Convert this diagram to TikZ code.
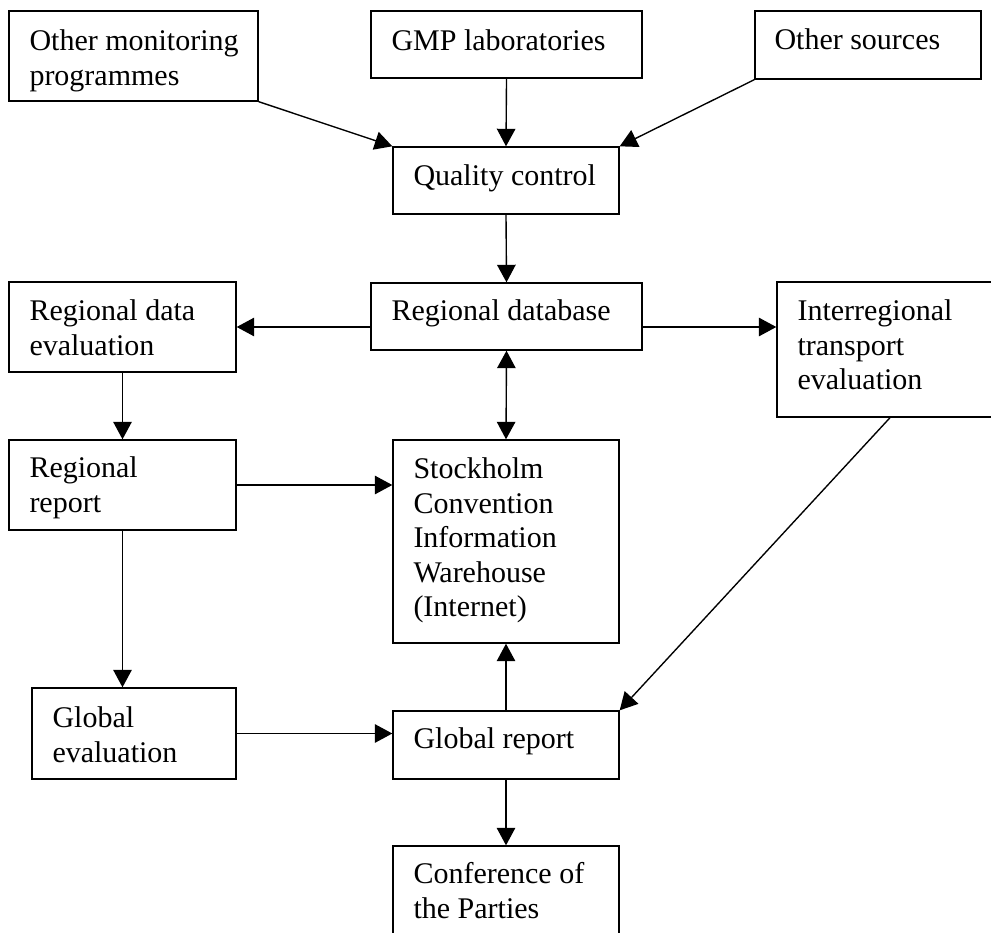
\documentclass[tikz,border=0pt]{standalone}
\usepackage{fontspec}
\setmainfont{Liberation Serif}
\usetikzlibrary{arrows.meta,fit,calc}
\begin{document}
\begin{tikzpicture}[x=0.4pt,y=-0.4pt,
  box/.style={draw, line width=0.55pt, inner sep=0pt, rectangle},
  txt/.style={anchor=north west, inner sep=0pt, align=left, font=\fontsize{12}{13.8}\selectfont},
  arr/.style={line width=0.55pt, -{Triangle[length=7pt,width=7.4pt]}},
  darr/.style={line width=0.55pt, {Triangle[length=7pt,width=7.4pt]}-{Triangle[length=7pt,width=7.4pt]}}]
\useasboundingbox (0,0) rectangle (991,932);

\node[box, fit={(9,11) (258,101)}] (omp) {};
\node[txt] (omp-t) at (29,26) {\strut Other monitoring\\programmes};
\node[box, fit={(371,11) (642,78)}] (gmp) {};
\node[txt] (gmp-t) at (391,26) {\strut GMP laboratories};
\node[box, fit={(755,11) (981,79)}] (os) {};
\node[txt] (os-t) at (774,25) {\strut Other sources};
\node[box, fit={(393,147) (619,214)}] (qc) {};
\node[txt] (qc-t) at (413,161) {\strut Quality control};
\node[box, fit={(371,283) (642,350)}] (rdb) {};
\node[txt] (rdb-t) at (391,296) {\strut Regional database};
\node[box, fit={(9,282) (236,372)}] (rde) {};
\node[txt] (rde-t) at (29,296) {\strut Regional data\\evaluation};
\node[box, fit={(777,282) (1003,417)}] (ire) {};
\node[txt] (ire-t) at (797,296) {\strut Interregional\\transport\\evaluation};
\node[box, fit={(9,440) (236,530)}] (rr) {};
\node[txt] (rr-t) at (29,453) {\strut Regional\\report};
\node[box, fit={(393,440) (619,643)}] (sc) {};
\node[txt] (sc-t) at (413,454) {\strut Stockholm\\Convention\\Information\\Warehouse\\(Internet)};
\node[box, fit={(32,688) (236,779)}] (ge) {};
\node[txt] (ge-t) at (52,703) {\strut Global\\evaluation};
\node[box, fit={(393,711) (619,779)}] (gr) {};
\node[txt] (gr-t) at (413,724) {\strut Global report};
\node[box, fit={(393,846) (619,960)}] (cp) {};
\node[txt] (cp-t) at (413,859) {\strut Conference of\\the Parties};

\coordinate (mid) at (rdb.west |- rde.east);

\draw[arr] (omp.south east) -- (qc.north west);
\draw[arr] (gmp.south) -- (qc.north);
\draw[arr] (os.south west) -- (qc.north east);
\draw[arr] (qc.south) -- (rdb.north);
\draw[arr] (mid) -- (rde.east);
\draw[arr] (mid -| rdb.east) -- (mid -| ire.west);
\draw[darr] (rdb.south) -- (sc.north);
\draw[arr] (rde.south) -- (rr.north);
\draw[arr] (rr.east) -- (rr.east -| sc.west);
\draw[arr] (rr.south) -- (rr.south |- ge.north);
\draw[arr] (ge.east) -- (ge.east -| gr.west);
\draw[arr] (gr.north) -- (sc.south);
\draw[arr] (ire.south) -- (gr.north east);
\draw[arr] (gr.south) -- (cp.north);
\end{tikzpicture}
\end{document}
